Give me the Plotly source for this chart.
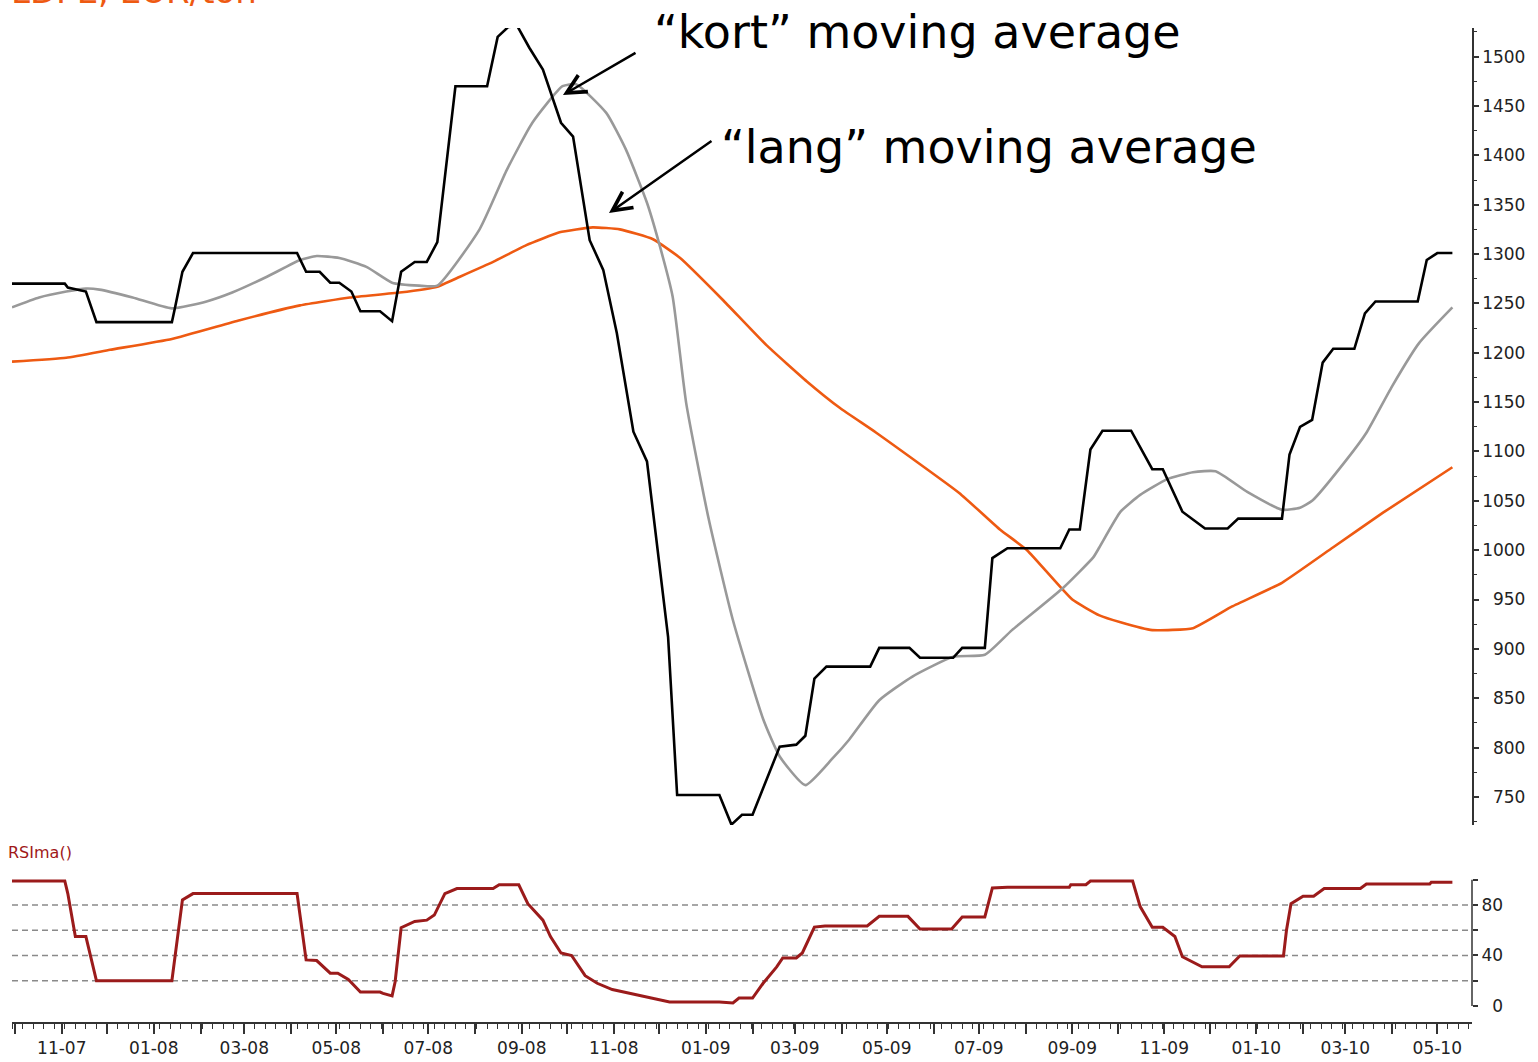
import plotly.graph_objects as go
import pandas as pd

# ---------------- data ----------------
price_dates = ["2007-09-29","2007-11-03","2007-11-05","2007-11-17","2007-11-24","2008-01-13","2008-01-15",
    "2008-01-20","2008-01-27","2008-04-05","2008-04-11","2008-04-20","2008-04-27","2008-05-03","2008-05-11",
    "2008-05-17","2008-05-30","2008-06-07","2008-06-13","2008-06-22","2008-06-30","2008-07-07","2008-07-19",
    "2008-08-09","2008-08-16","2008-08-23","2008-08-29","2008-09-06","2008-09-15","2008-09-27","2008-10-05",
    "2008-10-16","2008-10-25","2008-11-03","2008-11-14","2008-11-23","2008-12-07","2008-12-13","2009-01-10",
    "2009-01-18","2009-01-25","2009-02-01","2009-02-19","2009-03-02","2009-03-08","2009-03-14","2009-03-22",
    "2009-04-20","2009-04-26","2009-05-16","2009-05-23","2009-06-14","2009-06-20","2009-07-05","2009-07-10",
    "2009-07-20","2009-08-24","2009-08-30","2009-09-06","2009-09-13","2009-09-21","2009-10-10","2009-10-24",
    "2009-10-31","2009-11-13","2009-11-28","2009-12-13","2009-12-20","2010-01-18","2010-01-23","2010-01-30",
    "2010-02-07","2010-02-14","2010-02-21","2010-03-07","2010-03-14","2010-03-21","2010-04-18","2010-04-24",
    "2010-05-01","2010-05-11"]
price_values = [1270,1270,1266,1262,1231,1231,1245,
    1282,1301,1301,1282,1282,1271,1271,1262,
    1242,1242,1232,1282,1292,1292,1312,1470,
    1470,1520,1530,1531,1509,1487,1433,1419,
    1314,1284,1220,1120,1090,912,752,752,
    722,732,732,801,803,812,870,882,
    882,901,901,891,891,901,901,992,
    1002,1002,1021,1021,1102,1121,1121,1082,
    1082,1039,1022,1022,1032,1032,1097,1125,
    1132,1190,1204,1204,1240,1252,1252,1294,
    1301,1301]

short_ma_dates = ["2007-09-29","2007-10-17","2007-11-04","2007-11-17","2007-11-26","2007-12-18","2008-01-13",
    "2008-02-05","2008-02-22","2008-03-16","2008-04-07","2008-04-18","2008-05-03","2008-05-21","2008-06-07",
    "2008-06-25","2008-07-07","2008-08-04","2008-08-22","2008-09-08","2008-09-28","2008-10-07","2008-10-27",
    "2008-11-09","2008-11-23","2008-12-01","2008-12-10","2008-12-19","2009-01-03","2009-01-19","2009-02-08",
    "2009-02-19","2009-03-08","2009-03-26","2009-04-06","2009-04-26","2009-05-18","2009-06-14","2009-07-05",
    "2009-07-23","2009-08-26","2009-09-15","2009-09-19","2009-10-03","2009-10-16","2009-11-03","2009-11-20",
    "2009-12-05","2009-12-26","2010-01-18","2010-01-30","2010-02-07","2010-03-02","2010-03-15","2010-04-01",
    "2010-04-19","2010-05-11"]
short_ma_values = [1246,1256,1262,1265,1264,1256,1245,
    1252,1261,1277,1294,1298,1296,1287,1271,
    1268,1268,1325,1385,1433,1470,1472,1443,
    1406,1352,1311,1257,1149,1031,929,829,
    791,762,789,808,848,872,892,894,
    919,962,993,1003,1039,1056,1072,1079,
    1080,1059,1041,1043,1050,1092,1119,1166,
    1210,1246]

long_ma_dates = ["2007-09-29","2007-11-04","2007-12-03","2008-01-13","2008-02-27","2008-04-07","2008-05-10",
    "2008-06-12","2008-07-07","2008-07-22","2008-08-13","2008-09-04","2008-09-26","2008-10-18","2008-11-05",
    "2008-11-27","2008-12-15","2009-01-12","2009-02-10","2009-03-09","2009-03-31","2009-04-24","2009-06-18",
    "2009-07-15","2009-08-02","2009-09-01","2009-09-19","2009-10-03","2009-10-24","2009-11-20","2009-12-16",
    "2010-01-18","2010-02-21","2010-03-26","2010-05-11"]
long_ma_values = [1191,1195,1203,1214,1233,1248,1256,
    1261,1267,1277,1292,1309,1322,1327,1325,
    1315,1296,1254,1208,1171,1144,1119,1058,
    1021,1000,950,934,927,919,921,943,
    967,1003,1038,1084]

rsi_dates = ["2007-09-29","2007-11-03","2007-11-05","2007-11-10","2007-11-17","2007-11-24","2008-01-13",
    "2008-01-15","2008-01-20","2008-01-27","2008-04-05","2008-04-11","2008-04-18","2008-04-27","2008-05-02",
    "2008-05-09","2008-05-17","2008-05-30","2008-06-01","2008-06-07","2008-06-09","2008-06-13","2008-06-22",
    "2008-06-30","2008-07-05","2008-07-12","2008-07-20","2008-08-13","2008-08-17","2008-08-30","2008-09-05",
    "2008-09-15","2008-09-20","2008-09-27","2008-10-04","2008-10-13","2008-10-21","2008-10-31","2008-11-14",
    "2008-11-25","2008-12-08","2009-01-10","2009-01-19","2009-01-23","2009-02-01","2009-02-08","2009-02-17",
    "2009-02-21","2009-03-02","2009-03-06","2009-03-14","2009-03-21","2009-04-18","2009-04-26","2009-05-15",
    "2009-05-23","2009-06-13","2009-06-20","2009-07-05","2009-07-10","2009-07-20","2009-08-30","2009-08-31",
    "2009-09-10","2009-09-13","2009-10-11","2009-10-16","2009-10-24","2009-10-31","2009-11-08","2009-11-13",
    "2009-11-26","2009-12-14","2009-12-21","2010-01-19","2010-01-21","2010-01-24","2010-02-01","2010-02-08",
    "2010-02-15","2010-03-11","2010-03-15","2010-04-26","2010-04-27","2010-05-11"]
rsi_values = [99,99,89,55,55,20,20,
    39,84,89,89,36.5,36,26,26,
    21,11,11,10,8,19,62,67,
    68,72,89,93,93,96,96,81,
    68,55,42,40,24,18,13,9.5,
    6.3,3.2,3.2,2.4,6.3,6.3,18,31,
    38,38,42,62.5,63.4,63.4,71,71,
    61,61,70.5,70.5,93.5,94,94,96,
    96,99,99,78.7,62.3,62.3,55,39,
    31,31,39.6,39.6,60,81,87,87,
    93,93,96.6,96.6,98,98]

price_ticks = [750, 800, 850, 900, 950, 1000, 1050, 1100, 1150, 1200, 1250, 1300, 1350, 1400, 1450, 1500]
price_minor_ticks = [725, 775, 825, 875, 925, 975, 1025, 1075, 1125, 1175, 1225, 1275, 1325, 1375, 1425, 1475, 1525]
rsi_ticks = [0, 20, 40, 60, 80, 100]
rsi_tick_labels = ["0", "", "40", "", "80", ""]
rsi_levels = [20, 40, 60, 80]
month_label_dates = ["2007-11-01","2008-01-01","2008-03-01","2008-05-01","2008-07-01","2008-09-01","2008-11-01",
    "2009-01-01","2009-03-01","2009-05-01","2009-07-01","2009-09-01","2009-11-01","2010-01-01","2010-03-01","2010-05-01"]
month_labels = ["11-07","01-08","03-08","05-08","07-08","09-08","11-08","01-09","03-09","05-09","07-09",
    "09-09","11-09","01-10","03-10","05-10"]

title_text = "LDPE, EUR/ton"
rsi_title = "RSIma()"
kort_text = "\u201ckort\u201d moving average"
lang_text = "\u201clang\u201d moving average"

# ---------------- figure ----------------
W, H = 1538, 1062
ML, MR, MT, MB = 12, 66, 28, 40
PW, PH = W - ML - MR, H - MT - MB

def px_x(p):                 # picture pixel -> paper x
    return (p - ML) / PW

def px_y(p):                 # picture pixel -> paper y
    return (H - MB - p) / PH

FONT = "DejaVu Sans"
AXC = "#333333"

fig = go.Figure()
fig.add_trace(go.Scatter(x=long_ma_dates, y=long_ma_values, mode="lines",
                         line=dict(color="#EE5A12", width=2.6, shape="spline", smoothing=0.4),
                         xaxis="x", yaxis="y"))
fig.add_trace(go.Scatter(x=short_ma_dates, y=short_ma_values, mode="lines",
                         line=dict(color="#999999", width=2.6, shape="spline", smoothing=0.5), xaxis="x", yaxis="y"))
fig.add_trace(go.Scatter(x=price_dates, y=price_values, mode="lines",
                         line=dict(color="#000000", width=2.6), xaxis="x", yaxis="y"))
fig.add_trace(go.Scatter(x=rsi_dates, y=rsi_values, mode="lines",
                         line=dict(color="#9B1B1B", width=3), xaxis="x", yaxis="y2"))

# month ticks (every month), labels on odd months
all_months = pd.date_range("2007-10-01", "2010-05-01", freq="MS")
label_map = dict(zip(pd.to_datetime(month_label_dates), month_labels))
tickvals = [d.strftime("%Y-%m-%d") for d in all_months]
ticktext = [label_map.get(d, "") for d in all_months]

def pad_label(v, width):
    s = str(v)
    return "\u2007" * (width - len(s)) + s

shapes = []
for lvl in rsi_levels:
    shapes.append(dict(type="line", xref="paper", yref="y2", x0=0, x1=1, y0=lvl, y1=lvl,
                       line=dict(color="#8A8A8A", width=1.5, dash="6px,4px"), layer="below"))
shapes.append(dict(type="line", xref="paper", yref="y2", x0=1, x1=1, y0=0, y1=100,
                   line=dict(color=AXC, width=1.5)))

annotations = [
    dict(text=title_text, xref="paper", yref="paper", x=px_x(9), y=px_y(13), xanchor="left", yanchor="bottom",
         showarrow=False, font=dict(family=FONT, size=34, color="#EE5A12")),
    dict(text=rsi_title, xref="paper", yref="paper", x=px_x(6), y=px_y(853), xanchor="left", yanchor="middle",
         showarrow=False, font=dict(family=FONT, size=16, color="#A01818")),
    dict(text=kort_text, xref="paper", yref="paper", x=px_x(652), y=px_y(32), xanchor="left", yanchor="middle",
         showarrow=False, font=dict(family=FONT, size=46, color="#000000")),
    dict(text=lang_text, xref="paper", yref="paper", x=px_x(719), y=px_y(147), xanchor="left", yanchor="middle",
         showarrow=False, font=dict(family=FONT, size=46, color="#000000")),
    dict(text="", xref="paper", yref="paper", x=px_x(563), y=px_y(95), axref="pixel", ayref="pixel",
         ax=74, ay=-43, showarrow=True, arrowhead=5, arrowsize=1.5, arrowwidth=2.5, arrowcolor="#000000"),
    dict(text="", xref="paper", yref="paper", x=px_x(609), y=px_y(213), axref="pixel", ayref="pixel",
         ax=104, ay=-73, showarrow=True, arrowhead=5, arrowsize=1.5, arrowwidth=2.5, arrowcolor="#000000"),
]

tickfont = dict(family=FONT, size=17, color="#222222")
fig.update_layout(
    width=W, height=H,
    margin=dict(l=ML, r=MR, t=MT, b=MB, pad=0, autoexpand=False),
    paper_bgcolor="white", plot_bgcolor="white",
    showlegend=False,
    xaxis=dict(domain=[0, 1], anchor="y2", type="date", range=["2007-09-29", "2010-05-24"], automargin=False,
               tickmode="array", tickvals=tickvals, ticktext=ticktext,
               ticks="outside", ticklen=10, tickwidth=1.5, tickcolor=AXC,
               showline=True, linecolor=AXC, linewidth=1.5, showgrid=False, zeroline=False,
               tickfont=dict(family=FONT, size=17, color="#222222"),
               minor=dict(tickmode="linear", tick0="2007-10-06", dtick=7 * 86400000,
                          ticks="outside", ticklen=5, tickwidth=1.2, tickcolor=AXC, showgrid=False)),
    yaxis=dict(domain=[px_y(825), 1], anchor="x", side="right", range=[721.6, 1529], automargin=False,
               tickmode="array", tickvals=price_ticks, ticktext=[pad_label(v, 4) for v in price_ticks],
               ticks="outside", ticklen=5, tickwidth=1.5, tickcolor=AXC,
               showline=True, linecolor=AXC, linewidth=1.5, showgrid=False, zeroline=False,
               tickfont=tickfont,
               minor=dict(tickmode="array", tickvals=price_minor_ticks, ticks="outside", ticklen=3,
                          tickwidth=1.2, tickcolor=AXC, showgrid=False)),
    yaxis2=dict(domain=[0, px_y(870)], anchor="x", side="right", range=[-12.67, 107.7], automargin=False,
                tickmode="array", tickvals=rsi_ticks, ticktext=[pad_label(t, 2) if t else "" for t in rsi_tick_labels],
                ticks="outside", ticklen=5, tickwidth=1.5, tickcolor=AXC,
                showline=False, showgrid=False, zeroline=False, tickfont=tickfont),
    shapes=shapes,
    annotations=annotations,
)

fig.write_html("out.html", config={"displayModeBar": False},
               post_script="document.body.style.margin='0px';document.body.style.overflow='hidden';")
